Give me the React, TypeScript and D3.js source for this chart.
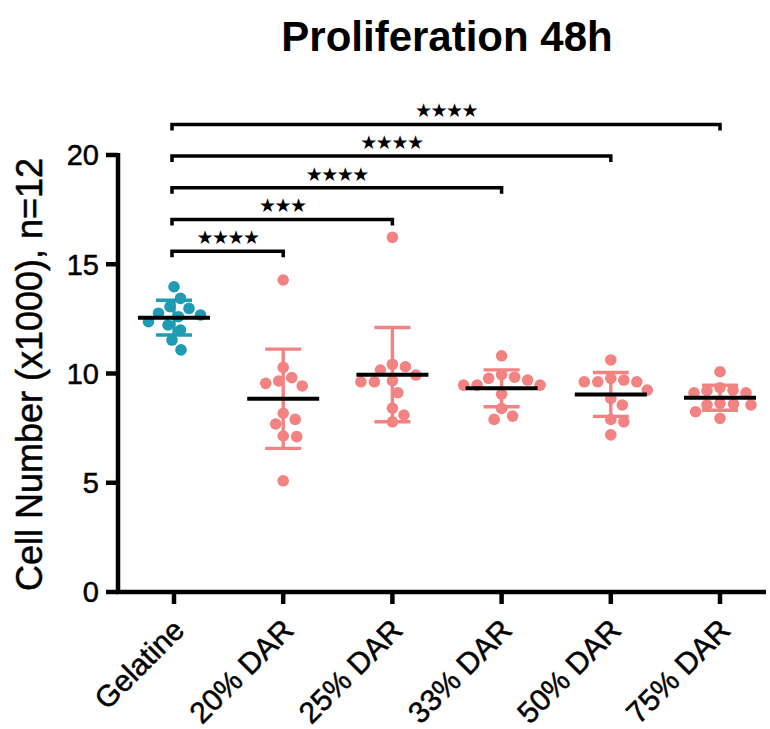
import React from 'react';
import * as d3 from 'd3';

// Cell counts (x1000) per coating, n = 12 wells each
const categories = ['Gelatine', '20% DAR', '25% DAR', '33% DAR', '50% DAR', '75% DAR'];
const gelatine = [13.97, 13.44, 12.98, 13.06, 12.68, 12.6, 12.76, 12.37, 12.22, 11.99, 11.53, 11.08];
const dar20 = [14.28, 10.28, 9.81, 9.66, 9.55, 9.43, 8.18, 7.9, 7.69, 7.14, 7.11, 5.09];
const dar25 = [16.23, 10.31, 10.42, 10.16, 9.93, 9.67, 9.62, 9.62, 9.12, 8.41, 8.1, 7.79];
const dar33 = [10.81, 9.95, 9.83, 9.78, 9.7, 9.47, 9.47, 9.47, 9.05, 8.4, 8.05, 7.9];
const dar50 = [10.62, 9.78, 9.62, 9.62, 9.62, 9.7, 9.24, 8.86, 8.56, 7.79, 7.9, 7.19];
const dar75 = [10.08, 9.35, 9.21, 9.12, 9.12, 9.24, 8.6, 8.64, 8.56, 8.56, 8.25, 7.95];
const groupValues = [gelatine, dar20, dar25, dar33, dar50, dar75];

const yTicks = [0, 5, 10, 15, 20];

// Pairwise tests against Gelatine, lowest bracket first
const compareTo = ['20% DAR', '25% DAR', '33% DAR', '50% DAR', '75% DAR'];
const compareStars = ['★★★★', '★★★', '★★★★', '★★★★', '★★★★'];

const TEAL = '#1f9bb4';
const PINK = '#f38282';
const FONT = "'Liberation Sans', Arial, sans-serif";

const DOT_R = 5.8;

// Greedy beeswarm: place points from the top down, nudging sideways until clear
function swarm(values: number[], y: (v: number) => number, gap: number) {
  const placed: { dx: number; py: number }[] = [];
  const out: { dx: number; py: number; v: number }[] = [];
  const order = values.map((_, i) => i).sort((a, b) => values[b] - values[a]);
  for (const i of order) {
    const py = y(values[i]);
    let dx = 0;
    for (let k = 0; k < 400; k++) {
      const cand = (k % 2 === 1 ? 1 : -1) * Math.ceil(k / 2) * 0.5;
      const hit = placed.some(p => (p.dx - cand) ** 2 + (p.py - py) ** 2 < gap * gap);
      if (!hit) { dx = cand; break; }
    }
    placed.push({ dx, py });
    out.push({ dx, py, v: values[i] });
  }
  return out;
}

export default function App() {
  const width = 770;
  const height = 729;

  const y = d3.scaleLinear().domain([0, 20]).range([592, 155]);
  const x = d3.scalePoint<string>().domain(categories).range([174, 720]);
  const axisX = 118;
  const axisY = y(0);

  const groups = categories.map((c, gi) => {
    const vals = groupValues[gi];
    const mean = d3.mean(vals) as number;
    const sd = d3.deviation(vals) as number;
    return {
      name: c,
      cx: x(c) as number,
      color: gi === 0 ? TEAL : PINK,
      mean,
      sd,
      pts: swarm(vals, y, DOT_R * 2.25),
    };
  });

  const bracketBase = 15.6;
  const bracketStep = 1.45;
  const x0 = x('Gelatine') as number;

  const textStroke = { stroke: '#000', strokeWidth: 0.5 };

  return (
    <svg width={width} height={height} style={{ display: 'block', position: 'absolute', left: 0, top: 0 }}>
      <rect width={width} height={height} fill="#fff" />

      {/* title */}
      <text x={447} y={51} textAnchor="middle" fontFamily={FONT} fontWeight="bold" fontSize={42} fill="#000">
        Proliferation 48h
      </text>

      {/* y axis */}
      <line x1={axisX} x2={axisX} y1={y(20) - 2} y2={axisY + 2} stroke="#000" strokeWidth={4.5} />
      {yTicks.map(t => (
        <g key={t}>
          <line x1={axisX - 12} x2={axisX} y1={y(t)} y2={y(t)} stroke="#000" strokeWidth={4.5} />
          <text x={axisX - 19} y={y(t)} dy="0.36em" textAnchor="end" fontFamily={FONT} fontSize={29} fill="#000" {...textStroke}>
            {t}
          </text>
        </g>
      ))}
      <text
        transform={`translate(42, ${(y(0) + y(20)) / 2 + 1}) rotate(-90)`}
        textAnchor="middle"
        fontFamily={FONT}
        fontSize={36}
        fill="#000"
        {...textStroke}
      >
        Cell Number (x1000), n=12
      </text>

      {/* x axis */}
      <line x1={axisX - 2} x2={766} y1={axisY} y2={axisY} stroke="#000" strokeWidth={4.5} />
      {categories.map(c => (
        <g key={c}>
          <line x1={x(c)} x2={x(c)} y1={axisY} y2={axisY + 12} stroke="#000" strokeWidth={4.5} />
          <text
            transform={`translate(${(x(c) as number) + 12}, ${axisY + 40}) rotate(-45)`}
            textAnchor="end"
            fontFamily={FONT}
            fontSize={30}
            fill="#000"
            {...textStroke}
          >
            {c}
          </text>
        </g>
      ))}

      {/* error bars: mean ± SD */}
      {groups.map(g => (
        <g key={g.name + '-sd'} stroke={g.color} strokeWidth={3.4}>
          <line x1={g.cx} x2={g.cx} y1={y(g.mean + g.sd)} y2={y(g.mean - g.sd)} />
          <line x1={g.cx - 18} x2={g.cx + 18} y1={y(g.mean + g.sd)} y2={y(g.mean + g.sd)} />
          <line x1={g.cx - 18} x2={g.cx + 18} y1={y(g.mean - g.sd)} y2={y(g.mean - g.sd)} />
        </g>
      ))}

      {/* individual wells */}
      {groups.map(g => (
        <g key={g.name + '-pts'} fill={g.color}>
          {g.pts.map((p, i) => (
            <circle key={i} cx={g.cx + p.dx} cy={p.py} r={DOT_R} />
          ))}
        </g>
      ))}

      {/* means */}
      {groups.map(g => (
        <line key={g.name + '-mean'} x1={g.cx - 36} x2={g.cx + 36} y1={y(g.mean)} y2={y(g.mean)} stroke="#000" strokeWidth={4} />
      ))}

      {/* significance brackets */}
      {compareTo.map((c, i) => {
        const by = y(bracketBase + i * bracketStep);
        const x1 = x0 - 2;
        const x2 = x(c) as number;
        return (
          <g key={c + '-sig'}>
            <path
              d={`M${x1},${by + 6}V${by}H${x2}V${by + 6}`}
              fill="none"
              stroke="#000"
              strokeWidth={3.5}
            />
            <text
              x={(x1 + x2) / 2}
              y={by - 7}
              textAnchor="middle"
              fontFamily="'DejaVu Sans', sans-serif"
              fontSize={19}
              letterSpacing={-1.5}
              fill="#000"
            >
              {compareStars[i]}
            </text>
          </g>
        );
      })}
    </svg>
  );
}
